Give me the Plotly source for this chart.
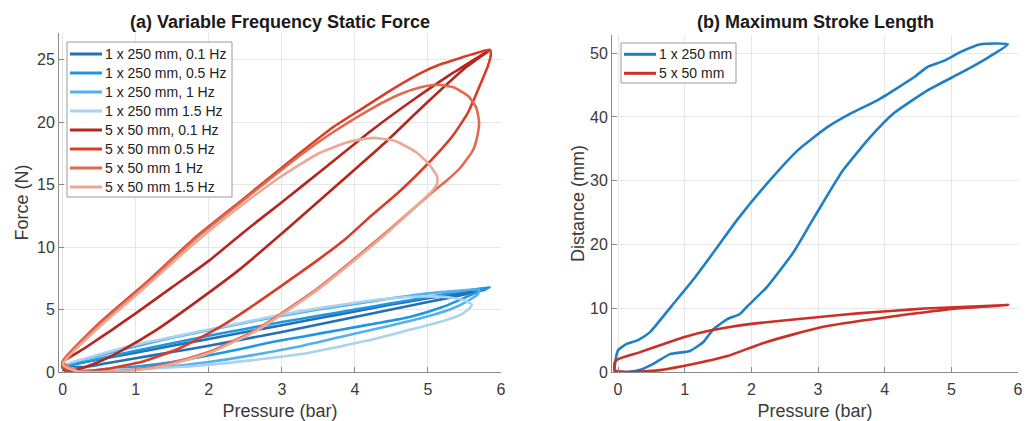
import plotly.graph_objects as go

# ---------------- Data ----------------
# Panel (a): Force (N) vs Pressure (bar); closed hysteresis loops
labels_a = ["1 x 250 mm, 0.1 Hz", "1 x 250 mm, 0.5 Hz", "1 x 250 mm, 1 Hz", "1 x 250 mm 1.5 Hz",
            "5 x 50 mm, 0.1 Hz", "5 x 50 mm 0.5 Hz", "5 x 50 mm 1 Hz", "5 x 50 mm 1.5 Hz"]

b01_p = [0, 0.5, 1, 1.5, 2, 2.5, 3, 3.5, 4, 4.5, 5, 5.4, 5.8, 5.5, 5, 4.5, 4, 3.5, 3, 2.5, 2, 1.5, 1, 0.6, 0.3, 0]
b01_f = [0.45, 1.0, 1.55, 2.1, 2.65, 3.2, 3.75, 4.3, 4.85, 5.4, 5.9, 6.25, 6.6, 6.2, 5.6, 5.0, 4.4, 3.8, 3.2, 2.65, 2.1, 1.6, 1.1, 0.7, 0.4, 0.45]

b05_p = [0, 0.5, 1, 1.5, 2, 2.5, 3, 3.5, 4, 4.5, 5, 5.5, 5.85, 5.75, 5.6, 5.2, 4.75, 4.3, 3.79, 3.3, 2.87, 2.4, 1.97, 1.5, 1.05, 0.6, 0.3, 0]
b05_f = [0.4, 1.05, 1.7, 2.3, 2.9, 3.45, 4.0, 4.5, 5.0, 5.5, 6.0, 6.5, 6.8, 6.6, 6.2, 5.2, 4.4, 3.9, 3.37, 2.85, 2.4, 1.8, 1.3, 0.8, 0.45, 0.2, 0.1, 0.2]

b10_p = [0, 0.5, 1, 1.5, 2, 2.5, 3, 3.5, 4, 4.5, 5, 5.4, 5.7, 5.68, 5.55, 5.3, 4.9, 4.4, 3.8, 3.2, 2.6, 2.0, 1.4, 0.8, 0.3, 0]
b10_f = [0.5, 1.3, 2.05, 2.75, 3.35, 3.95, 4.5, 5.0, 5.45, 5.9, 6.3, 6.5, 6.6, 6.2, 5.7, 5.0, 4.3, 3.6, 2.8, 2.0, 1.35, 0.8, 0.4, 0.2, 0.15, 0.5]

b15_p = [0, 0.5, 1, 1.5, 2, 2.5, 3, 3.5, 4, 4.5, 4.9, 5.25, 5.5, 5.6, 5.57, 5.45, 5.16, 4.7, 4.24, 3.8, 3.34, 2.6, 1.97, 1.3, 0.6, 0.25, 0]
b15_f = [0.5, 1.4, 2.2, 2.8, 3.4, 4.0, 4.6, 5.1, 5.55, 5.9, 6.05, 6.0, 5.75, 5.4, 5.1, 4.6, 4.0, 3.3, 2.6, 2.05, 1.5, 0.95, 0.56, 0.3, 0.15, 0.15, 0.5]

r01_p = [0, 0.3, 0.68, 1.0, 1.5, 2.0, 2.52, 3.0, 3.6, 4.24, 4.8, 5.3, 5.6, 5.85,
         5.5, 4.92, 4.4, 3.8, 3.06, 2.42, 1.8, 1.29, 0.8, 0.45, 0.2, 0.05, 0, 0]
r01_f = [0.8, 1.9, 3.4, 4.7, 6.8, 8.9, 11.4, 13.6, 16.4, 19.4, 21.8, 23.8, 24.9, 25.8,
         24.3, 21.2, 18.3, 15.2, 11.4, 8.2, 5.5, 3.4, 1.7, 0.7, 0.2, 0.05, 0.3, 0.8]

r05_p = [0, 0.5, 1.19, 1.8, 2.46, 3.24, 3.7, 4.1, 4.5, 4.92, 5.2, 5.47, 5.7, 5.85,
         5.86, 5.82, 5.7, 5.55, 5.35, 5.1, 4.85, 4.58, 4.2, 3.9, 3.5, 2.97, 2.5, 2.15, 1.6, 1.1, 0.6, 0.25, 0.05, 0]
r05_f = [0.8, 3.9, 7.4, 10.7, 13.8, 17.5, 19.6, 21.1, 22.6, 24.0, 24.7, 25.2, 25.6, 25.8,
         25.4, 24.5, 22.8, 20.8, 19.0, 17.3, 15.8, 14.3, 12.4, 10.8, 9.0, 6.8, 4.9, 3.6, 1.9, 0.85, 0.25, 0.05, 0.1, 0.8]

r10_p = [0, 0.5, 1.19, 1.8, 2.46, 3.24, 3.7, 4.2, 4.6, 4.9, 5.12, 5.35, 5.55, 5.66, 5.7,
         5.68, 5.62, 5.45, 5.25, 5.06, 4.47, 3.9, 3.47, 2.65, 2.0, 1.4, 1.0, 0.5, 0.2, 0]
r10_f = [0.8, 3.8, 7.3, 10.6, 13.7, 17.3, 19.2, 21.0, 22.2, 22.8, 23.0, 22.8, 22.1, 21.2, 20.0,
         19.0, 17.8, 16.4, 15.3, 14.4, 11.4, 8.6, 6.6, 3.4, 1.6, 0.6, 0.2, 0.0, 0.05, 0.8]

r15_p = [0, 0.5, 1.19, 1.8, 2.46, 3.0, 3.5, 3.9, 4.24, 4.55, 4.84, 5.02, 5.13, 5.12,
         5.06, 4.47, 3.9, 3.47, 2.65, 2.0, 1.4, 1.0, 0.5, 0.2, 0]
r15_f = [0.6, 3.6, 7.1, 10.3, 13.4, 15.7, 17.5, 18.4, 18.75, 18.5, 17.6, 16.6, 15.6, 15.0,
         14.5, 11.3, 8.5, 6.5, 3.3, 1.5, 0.5, 0.15, 0.0, 0.05, 0.6]

# Panel (b): Distance (mm) vs Pressure (bar)
labels_b = ["1 x 250 mm", "5 x 50 mm"]
s250_p = [-0.05, -0.04, 0.0, 0.13, 0.3, 0.48, 0.8, 1.13, 1.45, 1.79, 2.29, 2.7, 3.14, 3.5, 3.89, 4.2, 4.45,
          4.65, 4.89, 5.14, 5.44, 5.85,
          5.5, 5.14, 4.65, 4.14, 3.79, 3.38, 3.1, 2.9, 2.63, 2.24, 1.94, 1.83, 1.64, 1.43, 1.28, 1.08, 0.78,
          0.55, 0.35, 0.13, -0.05]
s250_d = [0.0, 1.6, 3.4, 4.4, 5.0, 6.25, 10.3, 14.5, 19.0, 23.9, 30.2, 34.8, 38.4, 40.6, 42.6, 44.6, 46.3,
          47.9, 48.8, 50.2, 51.4, 51.4,
          49.0, 46.9, 44.2, 40.6, 36.9, 31.7, 27.0, 23.5, 18.75, 13.4, 10.3, 9.1, 8.3, 6.7, 4.7, 3.3, 2.8,
          1.4, 0.4, 0.0, 0.0]

s50_p = [-0.05, 0.0, 0.3, 0.63, 1.0, 1.38, 1.7, 2.14, 2.6, 3.14, 3.6, 4.14, 4.6, 5.14, 5.5, 5.85,
         5.14, 4.14, 3.14, 2.63, 2.14, 1.64, 1.13, 0.63, 0.3, 0.13, -0.05, -0.05]
s50_d = [1.5, 2.0, 3.0, 4.2, 5.5, 6.5, 7.1, 7.7, 8.2, 8.75, 9.2, 9.6, 9.95, 10.2, 10.35, 10.5,
         10.0, 8.75, 7.2, 5.9, 4.4, 2.5, 1.25, 0.3, 0.05, 0.0, 0.3, 1.5]

x_ticks = [0, 1, 2, 3, 4, 5, 6]
force_ticks = [0, 5, 10, 15, 20, 25]
dist_ticks = [0, 10, 20, 30, 40, 50]

# ---------------- Styles ----------------
colors_a = ["#2271b5", "#1f96e2", "#55b1ea", "#a9d3f0",
            "#b5261e", "#d83d28", "#e1694f", "#eaa995"]
colors_b = ["#1f7fc6", "#cc2f26"]
FONT = "Liberation Sans, Arial, sans-serif"
LW = 2.6
W, H = 1035, 421


def px(x):
    return x / W


def py(y):
    return 1 - y / H


loops_a = [(b01_p, b01_f), (b05_p, b05_f), (b10_p, b10_f), (b15_p, b15_f),
           (r01_p, r01_f), (r05_p, r05_f), (r10_p, r10_f), (r15_p, r15_f)]

fig = go.Figure()
for (p, f), name, c in zip(loops_a, labels_a, colors_a):
    fig.add_trace(go.Scatter(x=p, y=f, mode="lines", name=name, showlegend=False,
                             line=dict(color=c, width=LW, shape="spline", smoothing=0.5),
                             xaxis="x", yaxis="y"))

for (p, d), name, c in zip([(s250_p, s250_d), (s50_p, s50_d)], labels_b, colors_b):
    fig.add_trace(go.Scatter(x=p, y=d, mode="lines", name=name, showlegend=False,
                             line=dict(color=c, width=LW, shape="spline", smoothing=0.5),
                             xaxis="x2", yaxis="y2"))

# ---------------- Legends (boxed, MATLAB-style) ----------------
shapes = []
annotations = []


def add_legend(names, colors, left, top, right, bottom, first_y, step):
    shapes.append(dict(type="rect", xref="paper", yref="paper",
                       x0=px(left), x1=px(right), y0=py(bottom), y1=py(top),
                       line=dict(color="#9a9a9a", width=1), fillcolor="white", layer="above"))
    for i, (n, c) in enumerate(zip(names, colors)):
        yy = first_y + i * step
        shapes.append(dict(type="line", xref="paper", yref="paper",
                           x0=px(left + 3), x1=px(left + 35), y0=py(yy), y1=py(yy),
                           line=dict(color=c, width=3), layer="above"))
        annotations.append(dict(text=n, xref="paper", yref="paper", x=px(left + 36), y=py(yy),
                                xanchor="left", yanchor="middle", showarrow=False,
                                font=dict(family=FONT, size=14, color="#222222")))


add_legend(labels_a, colors_a, 67, 42, 232, 197, 54, 19.0)
add_legend(labels_b, colors_b, 621, 43, 736, 83, 54.3, 19.0)

annotations += [
    dict(text="<b>(a) Variable Frequency Static Force</b>", xref="paper", yref="paper",
         x=px(280), y=py(22), xanchor="center", yanchor="middle", showarrow=False,
         font=dict(family=FONT, size=18, color="#1a1a1a")),
    dict(text="<b>(b) Maximum Stroke Length</b>", xref="paper", yref="paper",
         x=px(815), y=py(22), xanchor="center", yanchor="middle", showarrow=False,
         font=dict(family=FONT, size=18, color="#1a1a1a")),
]

axis_common = dict(showgrid=True, gridcolor="#e6e6e6", gridwidth=1, zeroline=False,
                   showline=True, linecolor="#8a8a8a", linewidth=1, automargin=False,
                   ticks="inside", ticklen=5, tickcolor="#8a8a8a",
                   tickfont=dict(family=FONT, size=16, color="#3a3a3a"),
                   title_font=dict(family=FONT, size=18, color="#3a3a3a"))

fig.update_layout(
    width=W, height=H,
    margin=dict(l=0, r=0, t=0, b=0),
    paper_bgcolor="white", plot_bgcolor="white",
    font=dict(family=FONT, color="#333333"),
    showlegend=False,
    xaxis=dict(domain=[px(59), px(501)], range=[-0.05, 6.0], tickvals=x_ticks,
               ticklabelstandoff=3,
               title=dict(text="Pressure (bar)", standoff=14), anchor="y", **axis_common),
    yaxis=dict(domain=[py(372), py(33)], range=[0, 27.15], tickvals=force_ticks,
               title=dict(text="Force (N)", standoff=3), anchor="x", **axis_common),
    xaxis2=dict(domain=[px(612), px(1018)], range=[-0.09, 6.0], tickvals=x_ticks,
                ticklabelstandoff=3,
                title=dict(text="Pressure (bar)", standoff=14), anchor="y2", **axis_common),
    yaxis2=dict(domain=[py(372), py(35)], range=[0, 52.85], tickvals=dist_ticks,
                title=dict(text="Distance (mm)", standoff=0), anchor="x2", **axis_common),
    shapes=shapes,
    annotations=annotations,
)

fig.write_html("out.html", config={"displayModeBar": False},
               post_script="document.body.style.margin='0';document.body.style.overflow='hidden';")
